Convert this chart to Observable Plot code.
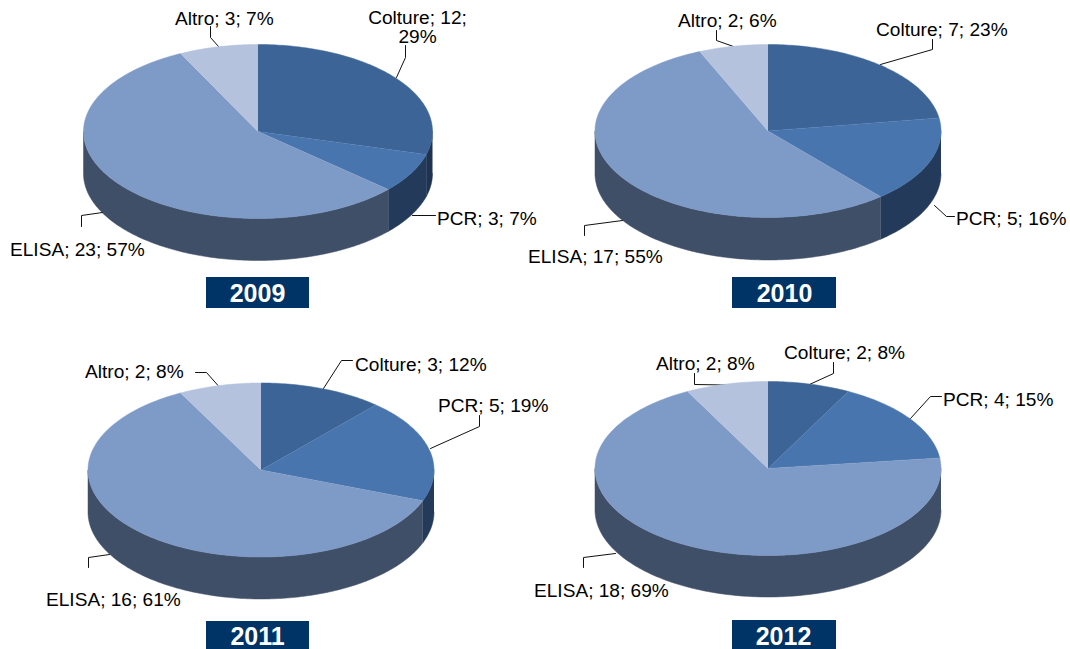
<!DOCTYPE html>
<html>
<head>
<meta charset="utf-8">
<script src="https://cdn.jsdelivr.net/npm/d3@7"></script>
<script src="https://cdn.jsdelivr.net/npm/@observablehq/plot@0.6"></script>
<style>
html,body{margin:0;padding:0;background:#fff;overflow:hidden}
svg{display:block}
</style>
</head>
<body>
<div id="chart"></div>
<script>
const categories = ["Colture", "PCR", "ELISA", "Altro"];
const years = ["2009", "2010", "2011", "2012"];
const counts2009 = [12, 3, 23, 3];
const counts2010 = [7, 5, 17, 2];
const counts2011 = [3, 5, 16, 2];
const counts2012 = [2, 4, 18, 2];
const percents2009 = [29, 7, 57, 7];
const percents2010 = [23, 16, 55, 6];
const percents2011 = [12, 19, 61, 8];
const percents2012 = [8, 15, 69, 8];
const counts = [counts2009, counts2010, counts2011, counts2012];
const percents = [percents2009, percents2010, percents2011, percents2012];

// Styles
const topColors = ["#3d6496", "#4875ae", "#7e9ac6", "#b4c2dd"];
const sideColors = ["#1f3350", "#243a5b", "#404f68", "#5f6f88"];
const boxColor = "#003366";

// Layout: pie centre, radii and depth; title box; label and leader placement
const pieLayout = [
  {cx: 257.5, cy: 131, rx: 174.5, ry: 87, depth: 42},
  {cx: 767.5, cy: 130.5, rx: 173, ry: 86.5, depth: 42.5},
  {cx: 260.5, cy: 469.5, rx: 173, ry: 87, depth: 42},
  {cx: 767.5, cy: 468, rx: 173, ry: 87, depth: 41.5}
];
const boxLayout = [
  {x1: 206, x2: 309, y1: 277, y2: 308, tx: 257, ty: 293.5},
  {x1: 732, x2: 836, y1: 277, y2: 308, tx: 784, ty: 293.5},
  {x1: 206, x2: 309, y1: 621, y2: 649, tx: 257, ty: 636.5},
  {x1: 732, x2: 836, y1: 620, y2: 649, tx: 783, ty: 636.5}
];
const labelLayout = [
  [[417, 27, "middle", true], [436.5, 218, "start"], [9.5, 249, "start"], [174.5, 18, "start"]],
  [[875.5, 29, "start"], [955.5, 218, "start"], [527.5, 256, "start"], [677.5, 20, "start"]],
  [[354.5, 364, "start"], [437.5, 405, "start"], [45.5, 599, "start"], [84.5, 371, "start"]],
  [[783.5, 352, "start"], [942.5, 399, "start"], [533.5, 590, "start"], [655.5, 363, "start"]]
];
const leaderLayout = [
  [[[405,45],[405,57],[396,77]], [[412,215],[435,215]], [[81,226],[81,215],[102,212]], [[210,26],[210,37],[218,46]]],
  [[[932,39],[932,49],[880,64]], [[934,205],[946,216],[954,216]], [[584,235],[584,225],[622,220]], [[716,30],[716,40],[733,46]]],
  [[[323,388],[341,360],[352,360]], [[479,415],[479,426],[430,448]], [[88,567],[88,557],[109,554]], [[195,372],[206,372],[217.5,385]]],
  [[[833,362],[833,373],[809,384]], [[910,418],[930,396],[941,396]], [[583,567],[583,557],[615,553]], [[694,373],[694,384],[725,384.5]]]
];

const marks = [];
const arc = (p, a0, a1, dy = 0) => {
  const n = Math.max(2, Math.ceil(Math.abs(a1 - a0) * 180 / Math.PI));
  return d3.range(n + 1).map(i => {
    const a = a0 + (a1 - a0) * i / n;
    return {x: p.cx + p.rx * Math.sin(a), y: p.cy - p.ry * Math.cos(a) + dy};
  });
};

years.forEach((year, yi) => {
  const p = pieLayout[yi];
  const vals = counts[yi];
  const total = d3.sum(vals);
  let acc = 0;
  const slices = vals.map((v, i) => {
    const a0 = acc / total * 2 * Math.PI;
    acc += v;
    return {i, a0, a1: acc / total * 2 * Math.PI};
  });
  // Front wall of the cylinder
  slices.forEach(s => {
    const a0 = Math.max(s.a0, Math.PI / 2), a1 = Math.min(s.a1, 3 * Math.PI / 2);
    if (a1 <= a0) return;
    const poly = [...arc(p, a0, a1), ...arc(p, a1, a0, p.depth)];
    marks.push(Plot.line(poly, {x: "x", y: "y", fill: sideColors[s.i], stroke: sideColors[s.i], strokeWidth: 0.5}));
  });
  // Leader lines sit under the top face edges
  leaderLayout[yi].forEach(pts => {
    marks.push(Plot.line(pts, {x: d => d[0], y: d => d[1], stroke: "#111", strokeWidth: 1}));
  });
  // Top face
  slices.forEach(s => {
    const poly = [{x: p.cx, y: p.cy}, ...arc(p, s.a0, s.a1)];
    marks.push(Plot.line(poly, {x: "x", y: "y", fill: topColors[s.i], stroke: topColors[s.i], strokeWidth: 0.5}));
  });
  // Labels
  categories.forEach((c, i) => {
    const [x, y, anchor, wrap] = labelLayout[yi][i];
    const text = wrap
      ? `${c}; ${vals[i]};\n${percents[yi][i]}%`
      : `${c}; ${vals[i]}; ${percents[yi][i]}%`;
    marks.push(Plot.text([text], {x: () => x, y: () => y, text: d => d, textAnchor: anchor, fontSize: 19.1, lineHeight: 1, fill: "#000"}));
  });
  // Year box
  const b = boxLayout[yi];
  marks.push(Plot.rect([b], {x1: "x1", x2: "x2", y1: "y1", y2: "y2", fill: boxColor}));
  marks.push(Plot.text([year], {x: () => b.tx, y: () => b.ty, text: d => d, fontSize: 25, fontWeight: "bold", fill: "#fff"}));
});

const chart = Plot.plot({
  width: 1070,
  height: 649,
  margin: 0,
  x: {domain: [0, 1070], range: [0, 1070], axis: null},
  y: {domain: [0, 649], range: [0, 649], axis: null},
  style: {fontFamily: "'Liberation Sans', Arial, sans-serif", background: "#fff"},
  marks
});
document.getElementById("chart").appendChild(chart);
</script>
</body>
</html>
